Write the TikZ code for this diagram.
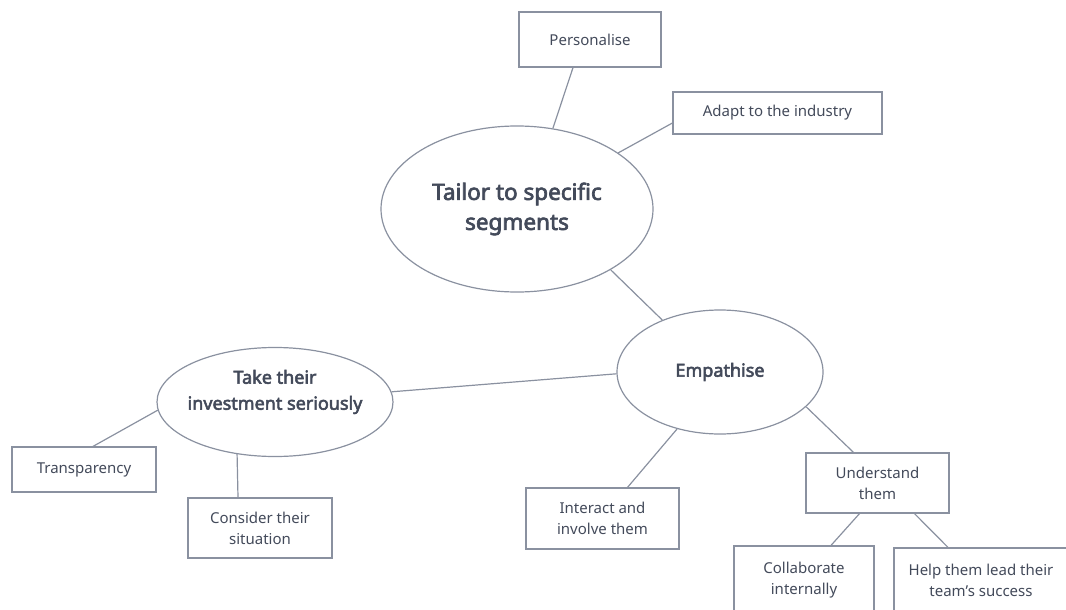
\documentclass[tikz,border=0pt]{standalone}
\usepackage{fontspec}
\setmainfont{Noto Sans}
\newfontfamily\hd{Noto Sans}[FakeBold=3]
\usetikzlibrary{shapes.geometric,calc}
\definecolor{ln}{HTML}{8A91A0}
\definecolor{tx}{HTML}{434A5A}
\tikzset{
  box/.style={draw=ln,line width=1.2pt,rectangle,inner sep=0pt,text=tx,font=\fontsize{15}{21}\selectfont,align=center},
  oval/.style={draw=ln,line width=1.2pt,ellipse,inner sep=0pt,text=tx,align=center},
  lbl/.style={inner sep=0pt,text=tx,align=center},
  conn/.style={draw=ln,line width=1.2pt}
}
\begin{document}
\begin{tikzpicture}[x=1pt,y=-1pt]
\useasboundingbox (0,0) rectangle (1066,610);
\clip (0,0) rectangle (1066,610);
% nodes
\node[box,minimum width=142pt,minimum height=55pt] (pers) at (590,39.5) {Personalise};
\node[box,minimum width=209pt,minimum height=42pt] (adapt) at (777.5,113) {Adapt to the industry};
\node[oval,minimum width=272pt,minimum height=166pt,font=\hd\fontsize{22.5}{30}\selectfont] (tailor) at (517,209) {Tailor to specific\\segments};
\node[oval,minimum width=206pt,minimum height=124pt,font=\hd\fontsize{18}{22}\selectfont] (emp) at (720,372) {Empathise};
\node[oval,minimum width=236pt,minimum height=109pt] (take) at (275,402) {};
\node[lbl,font=\hd\fontsize{18}{26}\selectfont] (taketext) at ([yshift=10pt]take.center) {Take their\\investment seriously};
\node[box,minimum width=144pt,minimum height=45pt] (trans) at (84,469.5) {Transparency};
\node[box,minimum width=144pt,minimum height=60pt] (cons) at (260,528) {Consider their\\situation};
\node[box,minimum width=153pt,minimum height=61pt] (inter) at (602.5,518.5) {Interact and\\involve them};
\node[box,minimum width=143pt,minimum height=60pt] (und) at (877.5,483) {Understand\\them};
\node[box,minimum width=140pt,minimum height=68pt] (coll) at (804,580) {Collaborate\\internally};
\node[box,minimum width=174pt,minimum height=64pt] (help) at (981,580) {Help them lead their\\team's success};
% connectors
\draw[conn] ([xshift=-17pt]pers.south) -- (tailor.66);
\draw[conn] ([yshift=-10pt]adapt.west) -- (tailor.29);
\draw[conn] (tailor.-33) -- (emp.138);
\draw[conn] (emp.181) -- (take.5);
\draw[conn] (take.184) -- ([xshift=9pt]trans.north);
\draw[conn] (take.234) -- ([xshift=-22pt]cons.north);
\draw[conn] (emp.233) -- ([xshift=25pt]inter.north);
\draw[conn] (emp.-22) -- ([xshift=-24pt]und.north);
\draw[conn] ([xshift=-18pt]und.south) -- ([xshift=27pt]coll.north);
\draw[conn] ([xshift=37pt]und.south) -- ([xshift=-33pt]help.north);
\end{tikzpicture}
\end{document}
